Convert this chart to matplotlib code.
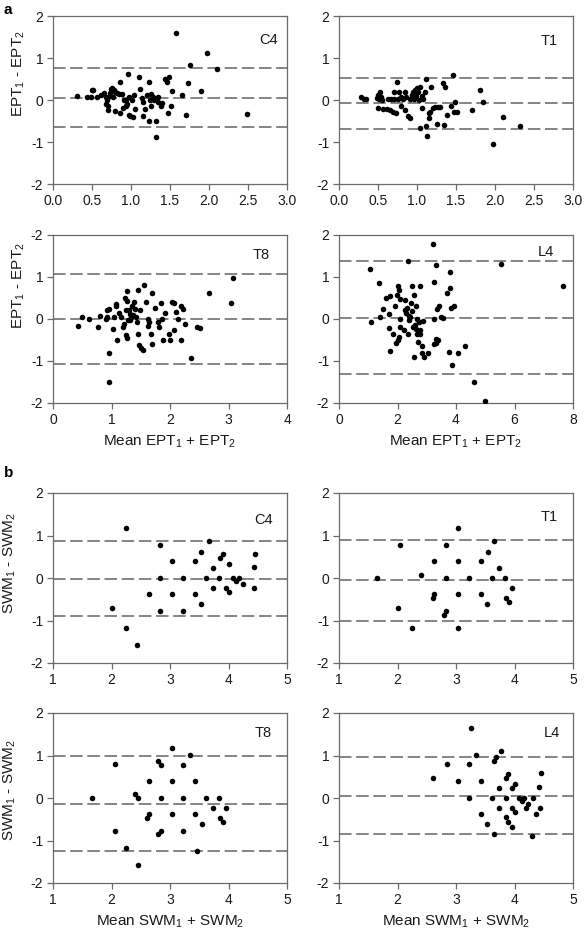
import matplotlib
matplotlib.use("Agg")
import matplotlib.pyplot as plt

plt.rcParams['font.family'] = ['Liberation Sans', 'DejaVu Sans']
plt.rcParams['mathtext.default'] = 'regular'

# ---------------- data: panel a (EPT) ----------------
c4_ept_x = [0.31, 0.44, 0.49, 0.50, 0.51, 0.57, 0.62, 0.65, 0.68, 0.69, 0.68, 0.70, 0.70, 0.71, 0.73, 0.74,
            0.76, 0.77, 0.78, 0.79, 0.80, 0.82, 0.84, 0.86, 0.86, 0.88, 0.90, 0.91, 0.93, 0.96, 0.94, 0.95,
            0.97, 0.98, 0.99, 1.01, 1.03, 1.04, 1.05, 1.10, 1.11, 1.14, 1.15, 1.16, 1.18, 1.20, 1.23, 1.23,
            1.24, 1.25, 1.26, 1.28, 1.30, 1.32, 1.32, 1.34, 1.35, 1.38, 1.40, 1.44, 1.46, 1.49, 1.47, 1.51,
            1.52, 1.58, 1.65, 1.71, 1.73, 1.75, 1.90, 1.98, 2.10, 2.49]
c4_ept_y = [0.10, 0.07, 0.06, 0.24, 0.23, 0.06, 0.12, 0.16, 0.06, 0.00, -0.09, -0.15, -0.23, 0.06, 0.16, 0.26,
            0.28, 0.06, 0.24, 0.20, -0.26, 0.16, 0.14, 0.42, -0.31, 0.14, -0.19, 0.00, -0.14, 0.61, 0.00, -0.10,
            -0.35, 0.08, -0.39, 0.00, -0.41, 0.11, -0.21, 0.54, 0.26, 0.04, -0.04, -0.38, -0.22, 0.12, 0.42, -0.51,
            0.00, -0.15, 0.14, 0.08, 0.00, -0.87, -0.51, 0.06, -0.04, -0.14, -0.07, 0.50, 0.42, 0.54, -0.30, -0.15,
            0.21, 1.59, 0.11, -0.35, 0.40, 0.84, 0.21, 1.11, 0.74, -0.33]
c4_ept_lines = [0.77, 0.05, -0.65]

t1_ept_x = [0.28, 0.32, 0.34, 0.49, 0.50, 0.50, 0.51, 0.53, 0.54, 0.56, 0.55, 0.61, 0.63, 0.66, 0.67, 0.69,
            0.70, 0.70, 0.73, 0.74, 0.76, 0.77, 0.79, 0.80, 0.82, 0.84, 0.84, 0.86, 0.88, 0.91, 0.91, 0.93,
            0.95, 0.96, 0.97, 0.99, 1.00, 1.01, 1.03, 1.04, 1.04, 1.06, 1.07, 1.08, 1.10, 1.11, 1.12, 1.13,
            1.15, 1.16, 1.17, 1.18, 1.20, 1.23, 1.25, 1.27, 1.30, 1.33, 1.34, 1.36, 1.38, 1.43, 1.46, 1.47,
            1.49, 1.51, 1.71, 1.81, 1.85, 2.10, 1.97, 2.32]
t1_ept_y = [0.06, 0.02, 0.02, 0.04, 0.13, -0.20, 0.02, 0.20, 0.08, -0.22, 0.00, -0.22, 0.02, -0.24, 0.02, -0.28,
            0.20, 0.02, -0.32, 0.43, 0.03, 0.20, -0.14, 0.08, 0.02, 0.20, -0.24, 0.08, -0.38, 0.02, -0.43, 0.12,
            0.20, 0.02, 0.25, 0.09, 0.28, 0.20, 0.00, -0.67, 0.30, -0.20, 0.09, 0.02, 0.20, 0.49, -0.62, -0.85,
            -0.32, -0.43, -0.28, 0.30, -0.20, -0.16, -0.57, -0.17, -0.17, 0.41, -0.60, 0.30, -0.36, -0.14, 0.59, -0.28,
            -0.04, -0.28, -0.24, 0.24, -0.04, -0.40, -1.05, -0.63]
t1_ept_lines = [0.53, -0.08, -0.68]

t8_ept_x = [0.42, 0.49, 0.61, 0.77, 0.80, 0.90, 0.92, 0.93, 0.96, 0.96, 0.96, 1.03, 1.04, 1.07, 1.08, 1.10,
            1.12, 1.16, 1.19, 1.21, 1.23, 1.24, 1.25, 1.26, 1.26, 1.27, 1.29, 1.30, 1.31, 1.32, 1.33, 1.35,
            1.36, 1.39, 1.40, 1.42, 1.44, 1.45, 1.46, 1.47, 1.48, 1.51, 1.53, 1.55, 1.59, 1.62, 1.62, 1.64,
            1.67, 1.69, 1.69, 1.75, 1.79, 1.81, 1.84, 1.87, 1.88, 1.92, 1.99, 2.00, 2.04, 2.06, 2.07, 2.10,
            2.14, 2.19, 2.19, 2.23, 2.25, 2.36, 2.47, 2.51, 2.66, 3.04, 3.08]
t8_ept_y = [-0.16, 0.05, 0.01, -0.19, 0.08, 0.01, 0.21, 0.05, 0.25, -0.82, -1.49, -0.23, 0.05, 0.31, 0.35, -0.49,
            0.15, 0.05, -0.19, -0.11, 0.50, -0.39, 0.21, 0.66, -0.46, 0.43, -0.03, 0.21, 0.12, -0.03, 0.05, 0.31,
            0.09, 0.41, 0.25, 0.05, -0.07, 0.69, -0.35, -0.61, 0.21, -0.70, -0.74, 0.82, 0.41, 0.01, -0.17, -0.07,
            -0.35, -0.60, 0.62, 0.27, -0.07, -0.20, 0.38, -0.01, -0.49, 0.14, -0.35, -0.51, 0.40, -0.25, 0.38, 0.17,
            -0.01, 0.31, -0.49, 0.25, -0.12, -0.94, -0.19, -0.21, 0.62, 0.38, 0.98]
t8_ept_lines = [1.08, 0.0, -1.08]

l4_ept_x = [1.05, 1.08, 1.36, 1.39, 1.50, 1.60, 1.71, 1.71, 1.73, 1.75, 1.85, 1.90, 1.94, 1.98, 2.02, 2.02,
            2.05, 2.05, 2.08, 2.10, 2.08, 2.21, 2.24, 2.27, 2.30, 2.32, 2.37, 2.37, 2.39, 2.41, 2.44, 2.47,
            2.48, 2.49, 2.53, 2.56, 2.57, 2.59, 2.62, 2.64, 2.67, 2.67, 2.73, 2.71, 2.76, 2.76, 2.78, 2.83,
            2.83, 2.87, 2.89, 3.04, 3.21, 3.24, 3.24, 3.24, 3.31, 3.31, 3.33, 3.35, 3.38, 3.41, 3.50, 3.56,
            3.69, 3.76, 3.78, 3.78, 3.82, 3.86, 3.92, 4.06, 4.30, 4.60, 4.98, 5.55, 7.66]
l4_ept_y = [1.18, -0.08, 0.85, 0.05, 0.23, 0.51, 0.12, -0.21, 0.54, -0.77, -0.35, 0.31, -0.58, 0.56, -0.51, 0.79,
            0.70, -0.42, 0.47, 0.01, -0.20, -0.25, 0.45, 0.21, 0.15, 0.27, -0.35, 1.39, 0.07, -0.03, 0.05, 0.39,
            0.79, 0.19, -0.20, -0.90, 0.57, -0.15, -0.23, 0.31, -0.36, 0.01, -0.07, -0.54, 0.79, -0.25, -0.35, -0.65,
            -0.82, -0.04, -0.90, -0.82, 1.78, -0.60, 0.89, -0.01, 1.28, -0.47, -0.58, 0.23, -0.49, 0.31, 0.05, 0.03,
            0.61, -0.78, 1.12, 0.73, 0.27, -1.09, 0.31, -0.82, -0.65, -1.50, -1.96, 1.32, 0.79]
l4_ept_lines = [1.38, 0.03, -1.32]

# ---------------- data: panel b (SWM) ----------------
c4_swm_x = [2.01, 2.24, 2.24, 2.44, 2.64, 2.83, 2.83, 2.83, 3.03, 3.03, 3.23, 3.23, 3.42, 3.42, 3.53, 3.53,
            3.61, 3.66, 3.73, 3.73, 3.84, 3.85, 3.90, 3.96, 4.01, 4.01, 4.08, 4.13, 4.18, 4.25, 4.44, 4.44, 4.46]
c4_swm_y = [-0.71, 1.18, -1.18, -1.58, -0.38, 0.78, 0.00, -0.78, 0.39, -0.38, 0.00, -0.78, 0.39, -0.38, 0.62, -0.62,
            0.00, 0.86, 0.24, -0.23, 0.00, 0.47, 0.56, -0.23, 0.33, -0.33, 0.00, -0.08, 0.00, -0.14, 0.25, -0.24, 0.57]
c4_swm_lines = [0.86, -0.02, -0.90]

t1_swm_x = [1.65, 2.01, 2.05, 2.25, 2.40, 2.60, 2.63, 2.63, 2.80, 2.83, 2.83, 2.83, 3.03, 3.03, 3.03, 3.03,
            3.22, 3.42, 3.42, 3.53, 3.54, 3.61, 3.65, 3.73, 3.84, 3.85, 3.90, 3.96]
t1_swm_y = [0.00, -0.71, 0.78, -1.18, 0.08, -0.48, -0.38, 0.39, -0.86, -0.78, 0.78, 0.00, 1.18, 0.39, -0.38, -1.18,
            0.00, 0.39, -0.38, -0.62, 0.62, 0.00, 0.86, 0.24, 0.00, -0.46, -0.56, -0.24]
t1_swm_lines = [0.89, -0.05, -1.00]

t8_swm_x = [1.66, 2.06, 2.06, 2.25, 2.40, 2.45, 2.45, 2.60, 2.64, 2.64, 2.80, 2.80, 2.84, 2.84, 2.84, 3.03,
            3.03, 3.03, 3.23, 3.23, 3.23, 3.35, 3.42, 3.42, 3.46, 3.54, 3.62, 3.73, 3.84, 3.85, 3.90, 3.96]
t8_swm_y = [0.00, 0.80, -0.78, -1.17, 0.09, 0.00, -1.57, -0.47, -0.38, 0.40, -0.85, 0.86, 0.78, 0.00, -0.78, 1.18,
            0.40, -0.38, 0.78, 0.00, -0.78, 1.02, 0.40, -0.38, -1.25, -0.61, 0.00, -0.23, 0.00, -0.46, -0.56, -0.23]
t8_swm_lines = [1.00, -0.13, -1.25]

l4_swm_x = [2.60, 2.84, 3.03, 3.22, 3.22, 3.26, 3.34, 3.42, 3.42, 3.53, 3.61, 3.65, 3.65, 3.69, 3.73, 3.73,
            3.77, 3.85, 3.85, 3.86, 3.89, 3.89, 3.96, 3.96, 3.96, 4.01, 4.01, 4.07, 4.12, 4.16, 4.19, 4.23,
            4.30, 4.32, 4.36, 4.42, 4.44, 4.46]
l4_swm_y = [0.48, 0.79, 0.40, 0.79, 0.00, 1.65, 1.02, 0.40, -0.38, -0.61, 0.00, 0.86, -0.85, 0.96, 0.24, -0.23,
            1.10, 0.00, -0.45, 0.48, 0.57, -0.56, 0.24, -0.23, -0.69, 0.34, -0.32, 0.00, -0.08, 0.00, -0.23, -0.14,
            -0.89, 0.00, -0.38, 0.26, -0.23, 0.59]
l4_swm_lines = [0.96, 0.05, -0.85]

panels = [
    ("C4", c4_ept_x, c4_ept_y, c4_ept_lines, (0, 3), [0.0, 0.5, 1.0, 1.5, 2.0, 2.5, 3.0], "{:.1f}", (0.92, 0.857)),
    ("T1", t1_ept_x, t1_ept_y, t1_ept_lines, (0, 3), [0.0, 0.5, 1.0, 1.5, 2.0, 2.5, 3.0], "{:.1f}", (0.90, 0.85)),
    ("T8", t8_ept_x, t8_ept_y, t8_ept_lines, (0, 4), [0, 1, 2, 3, 4], "{:d}", (0.89, 0.88)),
    ("L4", l4_ept_x, l4_ept_y, l4_ept_lines, (0, 8), [0, 2, 4, 6, 8], "{:d}", (0.885, 0.90)),
    ("C4", c4_swm_x, c4_swm_y, c4_swm_lines, (1, 5), [1, 2, 3, 4, 5], "{:d}", (0.90, 0.84)),
    ("T1", t1_swm_x, t1_swm_y, t1_swm_lines, (1, 5), [1, 2, 3, 4, 5], "{:d}", (0.90, 0.86)),
    ("T8", t8_swm_x, t8_swm_y, t8_swm_lines, (1, 5), [1, 2, 3, 4, 5], "{:d}", (0.90, 0.88)),
    ("L4", l4_swm_x, l4_swm_y, l4_swm_lines, (1, 5), [1, 2, 3, 4, 5], "{:d}", (0.91, 0.88)),
]
y_ticks = [-2, -1, 0, 1, 2]
y_ticklabels_default = ["-2", "-1", "0", "1", "2"]
y_ticklabels_t8 = ["-2", "-1", "0", "1", "-2"]  # as printed in the source figure

W, H = 584, 933
lefts = [53, 339]
tops = [16, 235, 493, 713]
bottoms = [184, 403, 663, 883]
# y-label placement (axes fraction) for left-column panels: (x of label right edge, y centre)
ylabel_pos = {0: (-0.11, 0.66), 2: (-0.11, 0.70), 4: (-0.15, 0.59), 6: (-0.15, 0.55)}

fig = plt.figure(figsize=(W / 100, H / 100), dpi=100)
spine_c = '#6a6a6a'
text_c = '#1a1a1a'
tick_fs = 10.0
label_fs = 11.0

for i, (name, xs, ys, lines, xlim, xt, fmt, lpos) in enumerate(panels):
    r, c = divmod(i, 2)
    l = lefts[c]
    t, b = tops[r], bottoms[r]
    ax = fig.add_axes([l / W, 1 - b / H, 234 / W, (b - t) / H])
    ax.set_xlim(*xlim)
    ax.set_ylim(-2, 2)
    for v in lines:
        ax.axhline(v, color='#707070', lw=1.2, ls=(0, (7.5, 2.8)), zorder=1)
    ax.plot(xs, ys, 'o', color='black', markersize=4.0, markeredgewidth=0, zorder=3)
    ax.set_xticks(xt)
    ax.set_xticklabels([fmt.format(v) for v in xt])
    ax.set_yticks(y_ticks)
    ax.set_yticklabels(y_ticklabels_t8 if i == 2 else y_ticklabels_default)
    for s in ax.spines.values():
        s.set_color(spine_c)
        s.set_linewidth(0.9)
    ax.tick_params(direction='out', length=4, width=0.9, color=spine_c,
                   labelsize=tick_fs, labelcolor=text_c, pad=3)
    ax.text(lpos[0], lpos[1], name, transform=ax.transAxes, ha='center', va='center',
            fontsize=10.5, color=text_c)
    if c == 0:
        lab = "EPT$_1$ - EPT$_2$" if i < 4 else "SWM$_1$ - SWM$_2$"
        ax.set_ylabel(lab, fontsize=label_fs, color=text_c)
        ax.yaxis.set_label_coords(*ylabel_pos[i])
    if r == 1:
        ax.set_xlabel("Mean EPT$_1$ + EPT$_2$", fontsize=label_fs, color=text_c, labelpad=5)
    if r == 3:
        ax.set_xlabel("Mean SWM$_1$ + SWM$_2$", fontsize=label_fs, color=text_c, labelpad=5)

fig.text(4 / W, 1 - 3 / H, "a", fontsize=11, fontweight='bold', ha='left', va='top', color='black')
fig.text(4 / W, 1 - 466 / H, "b", fontsize=11, fontweight='bold', ha='left', va='top', color='black')

fig.savefig("out.png", dpi=100, facecolor='white')
